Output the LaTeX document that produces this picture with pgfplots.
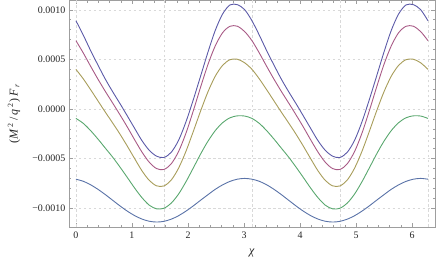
\documentclass[border=0pt]{standalone}
\usepackage{fontspec}
\setmainfont{Liberation Serif}
\usepackage{pgfplots}
\pgfplotsset{compat=1.18}
\usepackage{pgfplotstable}
\definecolor{c1}{rgb}{0.2472,0.24,0.6}
\definecolor{c2}{rgb}{0.6,0.24,0.4429}
\definecolor{c3}{rgb}{0.6,0.547,0.24}
\definecolor{c4}{rgb}{0.24,0.6,0.3369}
\definecolor{c5}{rgb}{0.24,0.3532,0.6}
% values in units of 1e-6
\pgfplotstableread{
x b m g gr bl
0 890 689 400 -95 -708
0.1309 745 565 304 -145 -729
0.2618 589 431 195 -218 -764
0.3927 443 301 82 -303 -810
0.5236 302 178 -31 -394 -863
0.6545 175 61 -140 -485 -920
0.7854 55 -58 -253 -585 -977
0.9163 -69 -181 -374 -690 -1030
1.0472 -195 -310 -500 -797 -1075
1.1781 -319 -434 -623 -894 -1110
1.3090 -417 -537 -720 -970 -1132
1.4399 -476 -601 -775 -1007 -1140
1.5708 -489 -610 -776 -1001 -1133
1.7017 -436 -552 -716 -949 -1111
1.8326 -315 -428 -596 -857 -1076
1.9635 -130 -244 -427 -734 -1030
2.0944 93 -19 -227 -595 -977
2.2253 332 221 -20 -454 -920
2.3562 573 449 173 -325 -864
2.4871 793 637 331 -218 -810
2.6180 958 769 440 -138 -765
2.7489 1049 834 497 -89 -730
2.8798 1052 835 502 -69 -708
3.0107 1002 781 466 -71 -700
3.1416 890 689 400 -95 -708
3.2725 745 565 304 -145 -729
3.4034 589 431 195 -218 -764
3.5343 443 301 82 -303 -810
3.6652 302 178 -31 -394 -863
3.7961 175 61 -140 -485 -920
3.9270 55 -58 -253 -585 -977
4.0579 -69 -181 -374 -690 -1030
4.1888 -195 -310 -500 -797 -1075
4.3197 -319 -434 -623 -894 -1110
4.4506 -417 -537 -720 -970 -1132
4.5815 -476 -601 -775 -1007 -1140
4.7124 -489 -610 -776 -1001 -1133
4.8433 -436 -552 -716 -949 -1111
4.9742 -315 -428 -596 -857 -1076
5.1051 -130 -244 -427 -734 -1030
5.2360 93 -19 -227 -595 -977
5.3669 332 221 -20 -454 -920
5.4978 573 449 173 -325 -864
5.6287 793 637 331 -218 -810
5.7596 958 769 440 -138 -765
5.8905 1049 834 497 -89 -730
6.0214 1052 835 502 -69 -708
6.1523 1002 781 466 -71 -700
6.2832 890 689 400 -95 -708
}\data
\begin{document}
\begin{tikzpicture}
\useasboundingbox (0,0) rectangle (436bp,266bp);
\begin{axis}[
  at={(68.9bp,39.2bp)}, anchor=south west,
  scale only axis, width=366.1bp, height=226.3bp,
  xmin=-0.1257, xmax=6.4089, ymin=-1188, ymax=1094,
  axis line style={black!38},
  tick style={black!38, line width=0.5pt},
  tick align=inside,
  major tick length=4bp, minor tick length=2.2bp,
  xtick={0,1,2,3,4,5,6},
  xticklabels={0,1,2,3,4,5,6},
  minor x tick num=4,
  ytick={-1000,-500,0,500,1000},
  yticklabels={−0.0010,−0.0005,0.0000,0.0005,0.0010},
  minor y tick num=4,
  ymajorgrids=true,
  grid style={black!15, dash pattern=on 2.5pt off 2.5pt, line width=0.5pt},
  extra x ticks={0,1.5708,3.1416,4.7124,6.2832},
  extra x tick labels={},
  extra x tick style={grid=major, major tick length=0pt},
  ticklabel style={font=\fontsize{10}{12}\selectfont, text=black!85},
  xticklabel style={yshift=-2bp},
  xlabel={\textit{χ}},
  xlabel style={at={(axis description cs:0.5,-0.116)}, anchor=center, font=\fontsize{12}{14}\selectfont, text=black!85},
  ylabel={(\textit{M}\,\textsuperscript{2}\,/\,\textit{q}\,\textsuperscript{2})\,\textit{F}\,\textsubscript{\textit{r}}},
  ylabel style={at={(axis description cs:-0.150,0.5)}, anchor=center, font=\fontsize{12}{14}\selectfont, text=black!85},
  every axis plot/.append style={line width=0.9bp, smooth},
]
\addplot[c5!85!white] table[x=x,y=bl]{\data};
\addplot[c4!85!white] table[x=x,y=gr]{\data};
\addplot[c3!85!white] table[x=x,y=g]{\data};
\addplot[c2!85!white] table[x=x,y=m]{\data};
\addplot[c1!85!white] table[x=x,y=b]{\data};
\end{axis}
\end{tikzpicture}
\end{document}
